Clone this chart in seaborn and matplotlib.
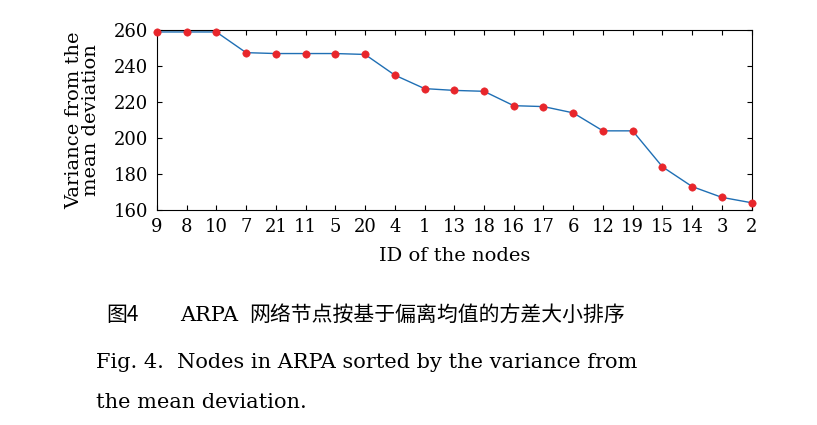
import matplotlib
matplotlib.use('Agg')
import matplotlib.pyplot as plt
import seaborn as sns
import pandas as pd

node_ids = ['9', '8', '10', '7', '21', '11', '5', '20', '4', '1', '13',
            '18', '16', '17', '6', '12', '19', '15', '14', '3', '2']
variance = [259, 259, 259, 247.5, 247, 247, 247, 246.5, 235, 227.5, 226.5,
            226, 218, 217.5, 214, 204, 204, 184, 173, 167, 164]
y_ticks = [160, 180, 200, 220, 240, 260]

plt.rcParams['font.family'] = 'serif'
plt.rcParams['font.serif'] = ['DejaVu Serif']

cjk = ['Noto Sans CJK SC', 'Noto Sans CJK JP', 'Noto Sans CJK TC',
       'Noto Sans CJK KR', 'DejaVu Serif']

df = pd.DataFrame({'pos': range(len(node_ids)), 'var': variance})

fig = plt.figure(figsize=(8.17, 4.25), dpi=100)
ax = fig.add_axes([0.192, 0.506, 0.728, 0.423])
sns.lineplot(data=df, x='pos', y='var', ax=ax, color='#1f6fb4', linewidth=1)
sns.scatterplot(data=df, x='pos', y='var', ax=ax, color='#e8262b', s=28,
                edgecolor='#e8262b', zorder=3, clip_on=False)
ax.set_xlim(0, len(node_ids) - 1)
ax.set_ylim(160, 260)
ax.set_xticks(range(len(node_ids)))
ax.set_xticklabels(node_ids)
ax.set_yticks(y_ticks)
ax.tick_params(direction='in', labelsize=13, top=True, right=True, pad=6)
ax.set_xlabel('ID of the nodes', fontsize=14, labelpad=8)
ax.set_ylabel('Variance from the\nmean deviation', fontsize=14,
              linespacing=0.9, labelpad=10)

fig.text(0.13, 0.245, '图4', fontsize=15, family=cjk)
fig.text(0.22, 0.245, 'ARPA', fontsize=15)
fig.text(0.305, 0.245, '网络节点按基于偏离均值的方差大小排序', fontsize=15,
         family=cjk)
fig.text(0.118, 0.135, 'Fig. 4.  Nodes in ARPA sorted by the variance from',
         fontsize=15)
fig.text(0.118, 0.04, 'the mean deviation.', fontsize=15)

plt.savefig('out.png')
